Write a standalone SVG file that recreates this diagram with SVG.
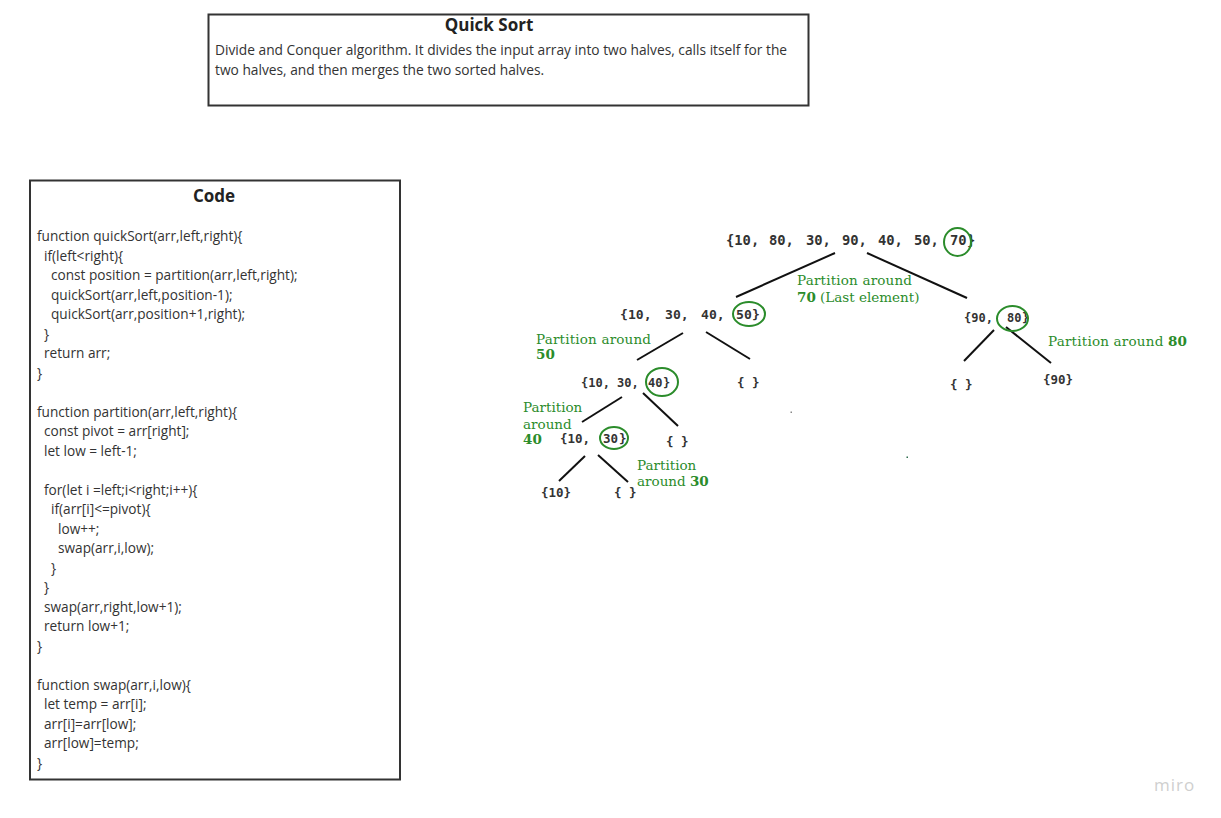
<svg xmlns="http://www.w3.org/2000/svg" width="1221" height="818" viewBox="0 0 1221 818">
<style>
.card{fill:#fff;stroke:#333;stroke-width:2}
.ttl{font-family:"Open Sans",sans-serif;font-weight:bold;font-size:17px;fill:#222;text-anchor:middle}
.desc{font-family:"Open Sans",sans-serif;font-size:13.75px;fill:#333}
.code{font-family:"Open Sans",sans-serif;font-size:13.65px;fill:#333}
.arr{font-family:"DejaVu Sans Mono",monospace;font-weight:bold;font-size:13.5px;fill:#333}
.s1{font-size:13.8px}
.s2{font-size:13.1px}
.s3{font-size:12px}
.s4{font-size:12.5px}
.lbl{font-family:"DejaVu Serif",serif;font-size:13.5px;fill:#2b8c2b}
.lbl tspan.n{font-weight:bold}
.ring{fill:none;stroke:#2b8c2b;stroke-width:2}
.edge{stroke:#111;stroke-width:2;fill:none}
</style>
<rect width="1221" height="818" fill="#fff"/>
<g id="header">
<rect class="card" x="208.5" y="14.5" width="600" height="91"/>
<text class="ttl" x="489" y="31">Quick Sort</text>
<text class="desc" x="215" y="55">Divide and Conquer algorithm. It divides the input array into two halves, calls itself for the</text>
<text class="desc" x="215" y="75">two halves, and then merges the two sorted halves.</text>
</g>
<g id="code">
<rect class="card" x="30" y="180.5" width="370" height="599"/>
<text class="ttl" x="214" y="202">Code</text>
<text class="code" x="37" y="241">function quickSort(arr,left,right){</text>
<text class="code" x="44" y="260.5">if(left&lt;right){</text>
<text class="code" x="51" y="280">const position = partition(arr,left,right);</text>
<text class="code" x="51" y="299.5">quickSort(arr,left,position-1);</text>
<text class="code" x="51" y="319">quickSort(arr,position+1,right);</text>
<text class="code" x="44" y="338.5">}</text>
<text class="code" x="44" y="358">return arr;</text>
<text class="code" x="37" y="377.5">}</text>
<text class="code" x="37" y="416.5">function partition(arr,left,right){</text>
<text class="code" x="44" y="436">const pivot = arr[right];</text>
<text class="code" x="44" y="455.5">let low = left-1;</text>
<text class="code" x="44" y="494.5">for(let i =left;i&lt;right;i++){</text>
<text class="code" x="51" y="514">if(arr[i]&lt;=pivot){</text>
<text class="code" x="58" y="533.5">low++;</text>
<text class="code" x="58" y="553">swap(arr,i,low);</text>
<text class="code" x="51" y="572.5">}</text>
<text class="code" x="44" y="592">}</text>
<text class="code" x="44" y="611.5">swap(arr,right,low+1);</text>
<text class="code" x="44" y="631">return low+1;</text>
<text class="code" x="37" y="650.5">}</text>
<text class="code" x="37" y="689.5">function swap(arr,i,low){</text>
<text class="code" x="44" y="709">let temp = arr[i];</text>
<text class="code" x="44" y="728.5">arr[i]=arr[low];</text>
<text class="code" x="44" y="748">arr[low]=temp;</text>
<text class="code" x="37" y="767.5">}</text>
</g>
<g id="connectors">
<line class="edge" x1="835" y1="253" x2="736" y2="297"/>
<line class="edge" x1="867" y1="253" x2="967" y2="298"/>
<line class="edge" x1="683" y1="333" x2="637" y2="360"/>
<line class="edge" x1="706" y1="332" x2="750" y2="359"/>
<line class="edge" x1="622" y1="397" x2="582" y2="422"/>
<line class="edge" x1="643" y1="393" x2="678" y2="426"/>
<line class="edge" x1="585" y1="456" x2="559" y2="481" stroke="#1e4d1e"/>
<line class="edge" x1="598" y1="455" x2="628" y2="482"/>
<line class="edge" x1="994" y1="330" x2="964" y2="361"/>
<line class="edge" x1="1006" y1="327" x2="1051" y2="363"/>
</g>
<g id="node-root">
<text class="arr s1" y="245"><tspan x="726">{10,</tspan><tspan x="769">80,</tspan><tspan x="806">30,</tspan><tspan x="842">90,</tspan><tspan x="878">40,</tspan><tspan x="914">50,</tspan><tspan x="950">70</tspan><tspan x="967">}</tspan></text>
<ellipse class="ring" cx="957.5" cy="242" rx="13.5" ry="14"/>
</g>
<g id="label-70">
<text class="lbl" x="797" y="285" textLength="115" lengthAdjust="spacing">Partition around</text>
<text class="lbl" x="797" y="301.5"><tspan class="n">70</tspan> (Last element)</text>
</g>
<g id="node-10-30-40-50">
<text class="arr s2" y="319"><tspan x="620">{10,</tspan><tspan x="665">30,</tspan><tspan x="701">40,</tspan><tspan x="736">50</tspan><tspan x="752">}</tspan></text>
<ellipse class="ring" cx="749" cy="314" rx="16" ry="12"/>
</g>
<g id="label-50">
<text class="lbl" x="536" y="343.5" textLength="115" lengthAdjust="spacing">Partition around</text>
<text class="lbl" x="536" y="358.5"><tspan class="n">50</tspan></text>
</g>
<g id="node-90-80">
<text class="arr s3" y="322"><tspan x="964">{90,</tspan><tspan x="1007">80</tspan><tspan x="1022">}</tspan></text>
<ellipse class="ring" cx="1012.5" cy="318.5" rx="15.5" ry="12.5"/>
</g>
<g id="label-80">
<text class="lbl" x="1048" y="346" textLength="139" lengthAdjust="spacing">Partition around <tspan class="n">80</tspan></text>
</g>
<g id="node-10-30-40">
<text class="arr s3" y="387"><tspan x="581">{10,</tspan><tspan x="617">30,</tspan><tspan x="648">40</tspan><tspan x="663">}</tspan></text>
<ellipse class="ring" cx="662" cy="382" rx="16" ry="14"/>
</g>
<g id="node-empty-1">
<text class="arr s4" x="737" y="387">{ }</text>
</g>
<g id="node-empty-2">
<text class="arr s4" x="950" y="389">{ }</text>
</g>
<g id="node-90">
<text class="arr s4" x="1043" y="384">{90}</text>
</g>
<g id="label-40">
<text class="lbl" x="523" y="412">Partition</text>
<text class="lbl" x="523" y="428.5">around</text>
<text class="lbl" x="523" y="443.5"><tspan class="n">40</tspan></text>
</g>
<g id="node-10-30">
<text class="arr s4" y="443"><tspan x="560">{10,</tspan><tspan x="603">30</tspan><tspan x="619">}</tspan></text>
<ellipse class="ring" cx="614" cy="438" rx="14" ry="11"/>
</g>
<g id="node-empty-3">
<text class="arr s4" x="666" y="446">{ }</text>
</g>
<g id="label-30">
<text class="lbl" x="637" y="470">Partition</text>
<text class="lbl" x="637" y="486">around <tspan class="n">30</tspan></text>
</g>
<g id="node-10">
<text class="arr s4" x="541" y="497">{10}</text>
</g>
<g id="node-empty-4">
<text class="arr s4" x="614" y="497">{  }</text>
</g>
<rect x="790.5" y="411.5" width="1.5" height="1.5" fill="#888"/>
<rect x="906.5" y="456.5" width="1.5" height="1.5" fill="#2b6b4b"/>
<text x="1154" y="791" font-family="'Open Sans',sans-serif" font-size="17" fill="#cfcfcf" letter-spacing="1">miro</text>
</svg>
